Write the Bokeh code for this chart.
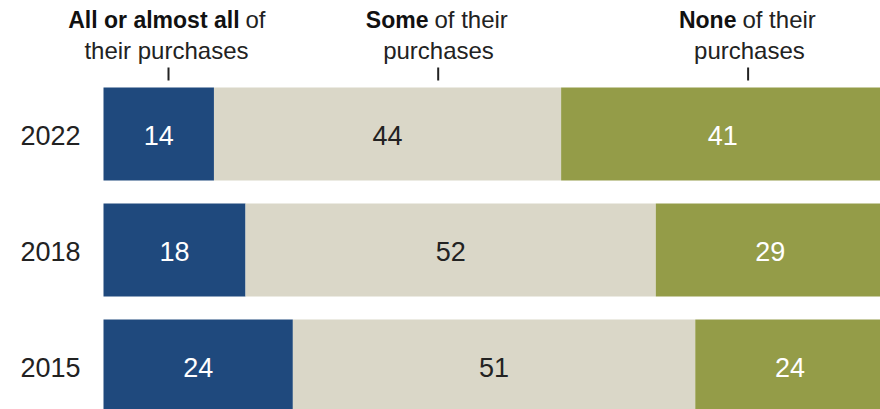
from bokeh.plotting import figure
from bokeh.models import Range1d, ColumnDataSource
from bokeh.core.properties import value
from bokeh.embed import file_html
from bokeh.resources import INLINE

# ---- data ----
years = ["2022", "2018", "2015"]
all_or_almost_all = [14, 18, 24]
some_of = [44, 52, 51]
none_of = [41, 29, 24]

header_bold = ["All or almost all", "Some", "None"]
header_rest = ["of", "of their", "of their"]
header_line2 = ["their purchases", "purchases", "purchases"]

# ---- styling / layout ----
BLUE = "#1F497D"
BEIGE = "#DAD7C8"
GREEN = "#949C48"
FONT = value("Liberation Sans")
W, H = 880, 409
X0_PX = 103          # pixel where 0 sits
PX_PER_UNIT = 7.89
ROW0_PX = 133.5      # centre of first bar, px
ROW_STEP = 116.0     # px between bar centres

# header anchor positions (data units)
hdr_tick_x = [8.24, 42.42, 81.7]
hdr_split_x = [17.62, 41.57, 80.6]
hdr_line2_x = [7.98, 42.46, 81.87]

def py(px):
    """pixel row -> y data units"""
    return (px - ROW0_PX) / ROW_STEP

p = figure(width=W, height=H, output_backend="svg", toolbar_location=None,
           x_range=Range1d(-X0_PX / PX_PER_UNIT, (W - X0_PX) / PX_PER_UNIT),
           y_range=Range1d(py(H), py(0)),
           min_border=0, min_border_left=0, min_border_right=0,
           min_border_top=0, min_border_bottom=0)
p.axis.visible = False
p.grid.visible = False
p.outline_line_color = None
p.background_fill_color = "white"
p.border_fill_color = "white"

idx = list(range(len(years)))
a = all_or_almost_all
s_end = [x + y for x, y in zip(a, some_of)]
n_end = [x + y for x, y in zip(s_end, none_of)]

src = ColumnDataSource(dict(
    y=idx, a=a, s_end=s_end, n_end=n_end,
    a_mid=[v / 2 for v in a],
    s_mid=[(x + y) / 2 for x, y in zip(a, s_end)],
    n_mid=[(x + y) / 2 for x, y in zip(s_end, n_end)],
    a_lab=[str(v) for v in a],
    s_lab=[str(v) for v in some_of],
    n_lab=[str(v) for v in none_of],
    year=years,
    zero=[0] * len(years),
))

BH = 93 / ROW_STEP
p.hbar(y="y", left="zero", right="a", height=BH, source=src, fill_color=BLUE, line_color=None)
p.hbar(y="y", left="a", right="s_end", height=BH, source=src, fill_color=BEIGE, line_color=None)
p.hbar(y="y", left="s_end", right="n_end", height=BH, source=src, fill_color=GREEN, line_color=None)

NUM_SIZE = "27px"
p.text(x="a_mid", y="y", text="a_lab", source=src, text_align="center", text_baseline="middle",
       text_color="white", text_font=FONT, text_font_size=NUM_SIZE, y_offset=1)
p.text(x="s_mid", y="y", text="s_lab", source=src, text_align="center", text_baseline="middle",
       text_color="#222222", text_font=FONT, text_font_size=NUM_SIZE, y_offset=1)
p.text(x="n_mid", y="y", text="n_lab", source=src, text_align="center", text_baseline="middle",
       text_color="white", text_font=FONT, text_font_size=NUM_SIZE, y_offset=1)
p.text(x="zero", y="y", text="year", source=src, text_align="right", text_baseline="middle",
       text_color="#222222", text_font=FONT, text_font_size=NUM_SIZE, x_offset=-23, y_offset=1)

# headers
BOLD_SIZE = "23px"
HDR_SIZE = "24px"
hsrc = ColumnDataSource(dict(
    split=hdr_split_x, center=hdr_line2_x, tick=hdr_tick_x,
    bold=header_bold, rest=header_rest, line2=header_line2,
    y1=[py(19)] * 3, y2=[py(50)] * 3,
    t0=[py(67)] * 3, t1=[py(80)] * 3,
))
p.text(x="split", y="y1", text="bold", source=hsrc, text_align="right", text_baseline="alphabetic",
       text_color="#111111", text_font=FONT, text_font_style="bold", text_font_size=BOLD_SIZE, x_offset=-3)
p.text(x="split", y="y1", text="rest", source=hsrc, text_align="left", text_baseline="alphabetic",
       text_color="#222222", text_font=FONT, text_font_size=HDR_SIZE, x_offset=3)
p.text(x="center", y="y2", text="line2", source=hsrc, text_align="center", text_baseline="alphabetic",
       text_color="#222222", text_font=FONT, text_font_size=HDR_SIZE)
p.segment(x0="tick", y0="t0", x1="tick", y1="t1", source=hsrc, line_color="#222222", line_width=2)

open("out.html", "w").write(file_html(p, INLINE))
